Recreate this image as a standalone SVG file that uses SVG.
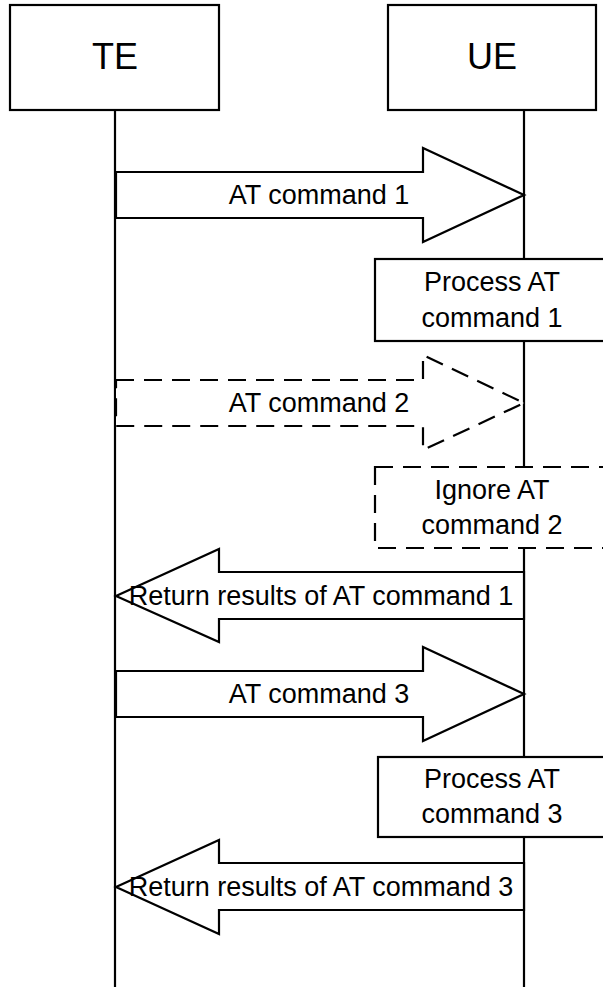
<svg xmlns="http://www.w3.org/2000/svg" width="603" height="992" viewBox="0 0 603 992">
<style>
.ln{stroke:#000;stroke-width:2.2;fill:none}
.sh{stroke:#000;stroke-width:2.2;fill:#fff;stroke-linejoin:miter}
.ds{stroke-dasharray:18 10}
text{font-family:"Liberation Sans",Arial,sans-serif;fill:#000;text-anchor:middle}
.t{font-size:27px}
.h{font-size:36px}
</style>
<rect width="603" height="992" fill="#fff"/>
<g id="lifelines">
<line class="ln" x1="115" y1="110" x2="115" y2="987"/>
<line class="ln" x1="524" y1="110" x2="524" y2="987"/>
</g>
<g id="TE"><rect class="sh" x="10" y="5" width="209" height="105"/><text class="h" x="115" y="69">TE</text></g>
<g id="UE"><rect class="sh" x="388" y="5" width="208" height="105"/><text class="h" x="492" y="69">UE</text></g>
<g id="connectors">
<g id="msg1"><polygon class="sh" points="116,172 423,172 423,148 524,195 423,242 423,218 116,218"/><text class="t" x="319" y="204">AT command 1</text></g>
<g id="msg2"><polygon class="sh ds" points="116,380 423,380 423,355 524,403 423,450 423,426 116,426"/><text class="t" x="319" y="412">AT command 2</text></g>
<g id="msg3"><polygon class="sh" points="524,572 219,572 219,549 116,596 219,642 219,619 524,619"/><text class="t" x="321" y="605">Return results of AT command 1</text></g>
<g id="msg4"><polygon class="sh" points="116,671 423,671 423,647 524,694 423,741 423,717 116,717"/><text class="t" x="319" y="703">AT command 3</text></g>
<g id="msg5"><polygon class="sh" points="524,863 219,863 219,840 116,887 219,934 219,910 524,910"/><text class="t" x="321" y="896">Return results of AT command 3</text></g>
</g>
<g id="proc1"><rect class="sh" x="375" y="259" width="236" height="82"/><text class="t" x="492" y="291">Process AT</text><text class="t" x="492" y="327">command 1</text></g>
<g id="ignore2"><rect class="sh ds" x="375" y="467" width="236" height="81"/><text class="t" x="492" y="499">Ignore AT</text><text class="t" x="492" y="534">command 2</text></g>
<g id="proc3"><rect class="sh" x="378" y="757" width="236" height="80"/><text class="t" x="492" y="788">Process AT</text><text class="t" x="492" y="823">command 3</text></g>
</svg>
